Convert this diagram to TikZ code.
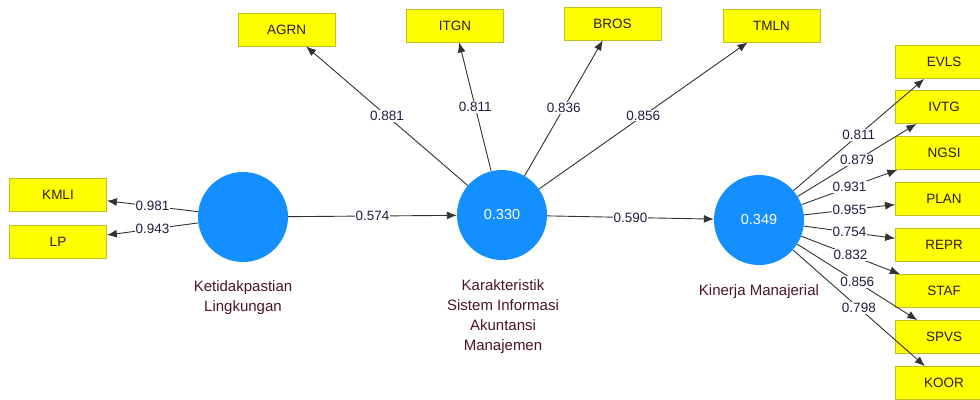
\documentclass[tikz,border=0pt]{standalone}
\usepackage{fontspec}
\setmainfont{Liberation Sans}
\usetikzlibrary{arrows.meta}
\definecolor{lvblue}{RGB}{20,143,255}
\definecolor{boxyel}{RGB}{255,255,0}
\definecolor{boxbrd}{RGB}{190,190,40}
\definecolor{numcol}{RGB}{35,30,60}
\definecolor{capcol}{RGB}{75,20,45}
\definecolor{linecol}{RGB}{50,50,50}
\definecolor{boxtxt}{RGB}{45,30,20}
\begin{document}
\begin{tikzpicture}[x=1pt,y=-1pt,
 lv/.style={circle,fill=lvblue,draw=none,minimum size=90pt,inner sep=0pt,text=white,font=\fontsize{14.5}{16}\selectfont},
 ind/.style={rectangle,fill=boxyel,draw=boxbrd,line width=0.8pt,minimum width=97pt,minimum height=33pt,inner sep=0pt,font=\fontsize{13.5}{15}\selectfont,text=boxtxt},
 arr/.style={draw=linecol,line width=0.9pt,-{Latex[length=10pt,width=8pt]}},
 lbl/.style={fill=white,inner sep=1pt,font=\fontsize{13.5}{15}\selectfont,text=numcol},
 lvcaption/.style={align=center,font=\fontsize{15}{20}\selectfont,text=capcol}]
\useasboundingbox (0,0) rectangle (980,399);
\fill[white] (0,0) rectangle (980,399);
% latent variables
\node[lv] (kl) at (243,217) {};
\node[lv] (ks) at (502,215) {0.330};
\node[lv] (km) at (759,220) {0.349};
% captions
\node[lvcaption] (capkl) at (243,297.5) {Ketidakpastian\\Lingkungan};
\node[lvcaption] (capks) at (503,317) {Karakteristik\\Sistem Informasi\\Akuntansi\\Manajemen};
\node[lvcaption] (capkm) at (759,292) {Kinerja Manajerial};
% indicators left
\node[ind] (kmli) at (58,195) {KMLI};
\node[ind] (lp) at (58,241.5) {LP};
% indicators top
\node[ind] (agrn) at (286.5,29.5) {AGRN};
\node[ind] (itgn) at (455,25.5) {ITGN};
\node[ind] (bros) at (612.5,23.5) {BROS};
\node[ind] (tmln) at (771.5,25.5) {TMLN};
% indicators right
\node[ind] (evls) at (944,62) {EVLS};
\node[ind] (ivtg) at (944,107) {IVTG};
\node[ind] (ngsi) at (944,153) {NGSI};
\node[ind] (plan) at (944,199) {PLAN};
\node[ind] (repr) at (944,245) {REPR};
\node[ind] (staf) at (944,291) {STAF};
\node[ind] (spvs) at (944,337) {SPVS};
\node[ind] (koor) at (944,383) {KOOR};
% structural paths
\draw[arr] (kl) -- node[lbl]{0.574} (ks);
\draw[arr] (ks) -- node[lbl]{0.590} (km);
% loadings
\draw[arr] (kl) -- node[lbl]{0.981} (kmli);
\draw[arr] (kl) -- node[lbl]{0.943} (lp);
\draw[arr] (ks) -- node[lbl]{0.881} (agrn);
\draw[arr] (ks) -- node[lbl]{0.811} (itgn);
\draw[arr] (ks) -- node[lbl]{0.836} (bros);
\draw[arr] (ks) -- node[lbl]{0.856} (tmln);
\draw[arr] (km) -- node[lbl]{0.811} (evls);
\draw[arr] (km) -- node[lbl]{0.879} (ivtg);
\draw[arr] (km) -- node[lbl]{0.931} (ngsi);
\draw[arr] (km) -- node[lbl]{0.955} (plan);
\draw[arr] (km) -- node[lbl]{0.754} (repr);
\draw[arr] (km) -- node[lbl]{0.832} (staf);
\draw[arr] (km) -- node[lbl]{0.856} (spvs);
\draw[arr] (km) -- node[lbl]{0.798} (koor);
\end{tikzpicture}
\end{document}
